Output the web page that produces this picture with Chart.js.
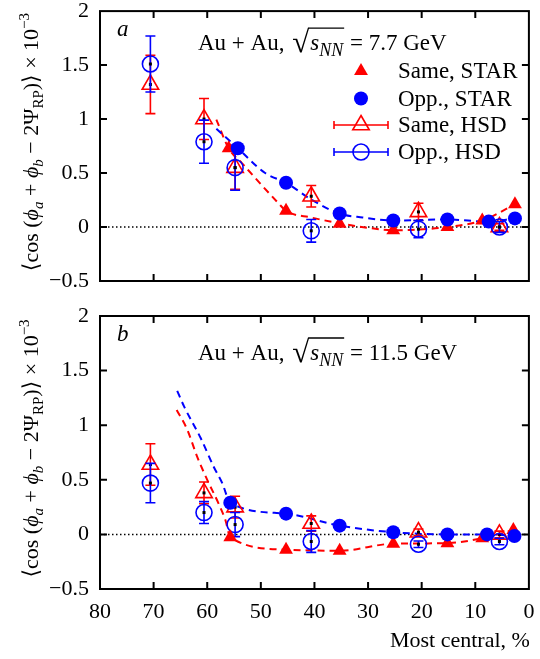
<!DOCTYPE html>
<html>
<head>
<meta charset="utf-8">
<script src="https://cdn.jsdelivr.net/npm/chart.js@4.4.1/dist/chart.umd.min.js"></script>
<style>
  html,body{margin:0;padding:0;background:#fff;}
  #wrap{position:relative;width:540px;height:659px;overflow:hidden;}
  canvas{position:absolute;left:0;}
  #cA{top:0;}
  #cB{top:300px;}
</style>
</head>
<body>
<div id="wrap">
  <canvas id="cA" width="540" height="300"></canvas>
  <canvas id="cB" width="540" height="359"></canvas>
</div>
<script>
/* two panels, Au+Au 7.7 and 11.5 GeV */

// axis ticks
const xTickVals = [0, 10, 20, 30, 40, 50, 60, 70, 80];
const yTickVals = [-0.5, 0, 0.5, 1, 1.5, 2];
const legendLabels = ['Same, STAR', 'Opp., STAR', 'Same, HSD', 'Opp., HSD'];
const xTitle = 'Most central, %';

// panel a — 7.7 GeV
const starSameXA  = [56, 45.3, 35.3, 25.3, 15.2, 8.7, 2.6];
const starSameA   = [0.73, 0.15, 0.03, -0.03, 0.0, 0.06, 0.21];
const starOppXA   = [54.3, 45.3, 35.3, 25.3, 15.2, 7.5, 2.6];
const starOppA    = [0.73, 0.41, 0.125, 0.06, 0.07, 0.05, 0.08];
const hsdX        = [70.6, 60.6, 54.8, 40.6, 20.6, 5.5];
const hsdSameA    = [1.32, 1.0, 0.55, 0.285, 0.14, 0.0];
const hsdSameErrA = [0.27, 0.19, 0.2, 0.1, 0.08, 0.03];
const hsdOppA     = [1.51, 0.79, 0.55, -0.035, -0.02, 0.0];
const hsdOppErrA  = [0.26, 0.2, 0.21, 0.105, 0.08, 0.05];
const fitSameXA   = [58.3, 56, 53.5, 46.8, 45.3, 40.6, 35.3, 29.6, 25.3, 21, 15.2, 8.7, 2.6];
const fitSameA    = [0.995, 0.73, 0.59, 0.225, 0.15, 0.088, 0.035, -0.01, -0.03, -0.025, 0.0, 0.06, 0.21];
const fitOppXA    = [58.3, 54.3, 49.2, 45.3, 40.6, 35.4, 31, 25.3, 15.2, 7.5, 2.6];
const fitOppA     = [0.91, 0.73, 0.5, 0.41, 0.255, 0.125, 0.088, 0.06, 0.07, 0.05, 0.08];

// panel b — 11.5 GeV
const starSameXB  = [55.7, 45.3, 35.3, 25.3, 15.2, 8.7, 2.9];
const starSameB   = [-0.025, -0.14, -0.15, -0.085, -0.08, -0.035, 0.04];
const starOppXB   = [55.7, 45.3, 35.3, 25.3, 15.2, 7.8, 2.7];
const starOppB    = [0.29, 0.19, 0.08, 0.02, 0.0, 0.0, -0.015];
const hsdSameB    = [0.64, 0.38, 0.25, 0.1, 0.02, 0.0];
const hsdSameErrB = [0.19, 0.1, 0.1, 0.07, 0.03, 0.03];
const hsdOppB     = [0.47, 0.2, 0.09, -0.065, -0.09, -0.065];
const hsdOppErrB  = [0.18, 0.1, 0.11, 0.1, 0.03, 0.03];
const fitSameXB   = [65.7, 63.7, 61.9, 60.0, 57.9, 56.6, 55.7, 45.3, 35.3, 25.3, 15.2, 8.7, 2.9];
const fitSameB    = [1.14, 0.957, 0.714, 0.5, 0.284, 0.13, -0.025, -0.14, -0.15, -0.085, -0.08, -0.035, 0.04];
const fitOppXB    = [65.6, 64.3, 61.2, 58.8, 57.2, 55.7, 45.3, 35.3, 25.3, 15.2, 7.8, 2.7];
const fitOppB     = [1.315, 1.17, 0.88, 0.62, 0.47, 0.29, 0.19, 0.08, 0.02, 0.0, 0.0, -0.015];

const RED = '#ff0000', BLUE = '#0000ff';
const SERIF = "'Liberation Serif','DejaVu Serif',serif";

function pts(xs, ys){ return xs.map((x,i)=>({x, y:ys[i]})); }

function fmtY(v){
  if(v < 0) return '\u2212' + Math.abs(v);
  return String(v);
}

// draws a run of text pieces, each with own font and vertical shift
function richText(ctx, parts, x, y, center){
  let w = 0;
  parts.forEach(p=>{ ctx.font = p.f; p.w = ctx.measureText(p.t).width; w += p.w + (p.dx||0); });
  let cx = center ? x - w/2 : x;
  parts.forEach(p=>{
    ctx.font = p.f;
    cx += (p.dx||0);
    ctx.fillText(p.t, cx, y + (p.dy||0));
    cx += p.w;
  });
  return cx;
}

function drawEnergy(ctx, x, base, energy){
  ctx.save();
  ctx.fillStyle = '#000';
  ctx.textAlign = 'left';
  ctx.textBaseline = 'alphabetic';
  ctx.font = `23px ${SERIF}`;
  const t1 = 'Au + Au, ';
  ctx.fillText(t1, x, base);
  x += ctx.measureText(t1).width + 2;
  // radical sign
  ctx.font = `31px ${SERIF}`;
  ctx.fillText('\u221A', x, base + 2);
  x += ctx.measureText('\u221A').width - 1;
  const x0 = x;
  x = richText(ctx, [
    {t:'s', f:`italic 23px ${SERIF}`, dx:2},
    {t:'NN', f:`italic 18px ${SERIF}`, dy:6}
  ], x, base);
  ctx.strokeStyle = '#000';
  ctx.lineWidth = 1.3;
  ctx.beginPath();
  ctx.moveTo(x0, base - 22);
  ctx.lineTo(x + 1, base - 22);
  ctx.stroke();
  ctx.font = `23px ${SERIF}`;
  ctx.fillText(' = ' + energy + ' GeV', x + 1, base);
  ctx.restore();
}

function drawYTitle(ctx, cx, cy){
  const f = `22px ${SERIF}`, fi = `italic 22px ${SERIF}`, fs = `15px ${SERIF}`, fsi = `italic 15px ${SERIF}`;
  ctx.save();
  ctx.fillStyle = '#000';
  ctx.textAlign = 'left';
  ctx.textBaseline = 'alphabetic';
  ctx.translate(cx, cy);
  ctx.rotate(-Math.PI/2);
  richText(ctx, [
    {t:'\u27E8cos (', f},
    {t:'\u03D5', f:fi},
    {t:'a', f:fsi, dy:5},
    {t:' + ', f},
    {t:'\u03D5', f:fi},
    {t:'b', f:fsi, dy:5},
    {t:' \u2212 2\u03A8', f},
    {t:'RP', f:fs, dy:5},
    {t:')\u27E9 \u00D7 10', f},
    {t:'\u22123', f:fs, dy:-9}
  ], 0, 0, true);
  ctx.restore();
}

function errorBars(chart, idx){
  const ds = chart.data.datasets[idx];
  const meta = chart.getDatasetMeta(idx);
  const ys = chart.scales.y;
  const ctx = chart.ctx;
  ctx.save();
  ctx.strokeStyle = ds.borderColor;
  ctx.lineWidth = 1.6;
  meta.data.forEach((pt,i)=>{
    const v = ds.data[i].y, e = ds.err[i];
    const y1 = ys.getPixelForValue(v + e), y2 = ys.getPixelForValue(v - e);
    ctx.beginPath();
    ctx.moveTo(pt.x, y1); ctx.lineTo(pt.x, y2);
    ctx.moveTo(pt.x - 5, y1); ctx.lineTo(pt.x + 5, y1);
    ctx.moveTo(pt.x - 5, y2); ctx.lineTo(pt.x + 5, y2);
    ctx.stroke();
  });
  ctx.restore();
}

function legendRow(ctx, x, y, style, radius, color, open, bar, label){
  ctx.save();
  ctx.strokeStyle = color;
  ctx.fillStyle = color;
  if(bar){
    ctx.lineWidth = 1.6;
    ctx.beginPath();
    ctx.moveTo(x - 27, y); ctx.lineTo(x + 27, y);
    ctx.moveTo(x - 27, y - 4); ctx.lineTo(x - 27, y + 4);
    ctx.moveTo(x + 27, y - 4); ctx.lineTo(x + 27, y + 4);
    ctx.stroke();
  }
  if(open) ctx.fillStyle = 'rgba(255,255,255,0)';
  Chart.helpers.drawPoint(ctx, {pointStyle:style, radius, rotation:0, borderWidth: open ? 1.6 : 0}, x, y);
  ctx.fillStyle = '#000';
  ctx.font = `23px ${SERIF}`;
  ctx.textAlign = 'left';
  ctx.textBaseline = 'alphabetic';
  ctx.fillText(label, 398, y + 7);
  ctx.restore();
}

const paperPlugin = {
  id: 'paper',
  beforeDatasetsDraw(chart){
    const {ctx, chartArea:a, scales:{y}} = chart;
    const y0 = y.getPixelForValue(0);
    ctx.save();
    ctx.strokeStyle = '#000';
    ctx.lineWidth = 1.5;
    ctx.setLineDash([1.5, 2.5]);
    ctx.beginPath();
    ctx.moveTo(a.left, y0);
    ctx.lineTo(a.right, y0);
    ctx.stroke();
    ctx.restore();
  },
  beforeDatasetDraw(chart, args){
    if(chart.data.datasets[args.index].err) errorBars(chart, args.index);
  },
  afterDatasetDraw(chart, args){
    const ds = chart.data.datasets[args.index];
    if(!ds.err) return;
    const ctx = chart.ctx;
    ctx.save();
    ctx.fillStyle = '#000';
    chart.getDatasetMeta(args.index).data.forEach(pt=>ctx.fillRect(pt.x - 1.5, pt.y - 1.5, 3, 3));
    ctx.restore();
  },
  afterDraw(chart, args, opts){
    const {ctx, chartArea:a, scales:{x, y}} = chart;
    ctx.save();
    // inner tick marks
    ctx.strokeStyle = '#000';
    ctx.lineWidth = 2;
    ctx.beginPath();
    xTickVals.forEach(v=>{
      if(v <= 0 || v >= 80) return;
      const px = x.getPixelForValue(v);
      ctx.moveTo(px, a.top); ctx.lineTo(px, a.top + 7);
      ctx.moveTo(px, a.bottom); ctx.lineTo(px, a.bottom - 7);
    });
    yTickVals.forEach(v=>{
      if(v <= -0.5 || v >= 2) return;
      const py = y.getPixelForValue(v);
      ctx.moveTo(a.left, py); ctx.lineTo(a.left + 7, py);
      ctx.moveTo(a.right, py); ctx.lineTo(a.right - 7, py);
    });
    ctx.stroke();
    // frame
    ctx.strokeRect(a.left, a.top, a.right - a.left, a.bottom - a.top);

    // panel letter
    ctx.fillStyle = '#000';
    ctx.font = `italic 23px ${SERIF}`;
    ctx.textAlign = 'left';
    ctx.textBaseline = 'alphabetic';
    ctx.fillText(opts.letter, 117, a.top + 25);

    // x-axis title (bottom panel only)
    if(opts.xTitle){
      ctx.font = `22px ${SERIF}`;
      ctx.textAlign = 'right';
      ctx.textBaseline = 'middle';
      ctx.fillText(opts.xTitle, a.right + 1, 341);
    }
    ctx.restore();

    drawEnergy(ctx, 198, a.top + opts.energyDy, opts.energy);

    if(opts.legend){
      const lx = 361;
      legendRow(ctx, lx, 71, 'triangle', 8, RED, false, false, legendLabels[0]);
      legendRow(ctx, lx, 98.5, 'circle', 7, BLUE, false, false, legendLabels[1]);
      legendRow(ctx, lx, 125, 'triangle', 9.5, RED, true, true, legendLabels[2]);
      legendRow(ctx, lx, 152, 'circle', 8, BLUE, true, true, legendLabels[3]);
    }

    drawYTitle(ctx, 38, (a.top + a.bottom)/2 - 4);
  }
};

function makeDatasets(p){
  return [
    {label:'Opp., STAR', data:pts(p.starOppX, p.starOpp), order:1,
     pointStyle:'circle', pointRadius:7, backgroundColor:BLUE, borderColor:BLUE, pointBorderWidth:0, showLine:false},
    {label:'Same, STAR', data:pts(p.starSameX, p.starSame), order:2,
     pointStyle:'triangle', pointRadius:8, backgroundColor:RED, borderColor:RED, pointBorderWidth:0, showLine:false},
    {label:'Opp., HSD', data:pts(hsdX, p.hsdOpp), err:p.hsdOppErr, order:3,
     pointStyle:'circle', pointRadius:8, backgroundColor:'rgba(0,0,0,0)', borderColor:BLUE, pointBorderWidth:1.6, showLine:false},
    {label:'Same, HSD', data:pts(hsdX, p.hsdSame), err:p.hsdSameErr, order:4,
     pointStyle:'triangle', pointRadius:9.5, backgroundColor:'rgba(0,0,0,0)', borderColor:RED, pointBorderWidth:1.6, showLine:false},
    {label:'fit opp', data:pts(p.fitOppX, p.fitOpp), order:5, showLine:true, pointRadius:0,
     borderColor:BLUE, borderWidth:2, borderDash:[7,5], cubicInterpolationMode:'monotone'},
    {label:'fit same', data:pts(p.fitSameX, p.fitSame), order:6, showLine:true, pointRadius:0,
     borderColor:RED, borderWidth:2, borderDash:[7,5], cubicInterpolationMode:'monotone'}
  ];
}

function makeChart(canvas, p, opts){
  const bottomPanel = opts.bottom;
  return new Chart(canvas, {
    type:'scatter',
    data:{ datasets: makeDatasets(p) },
    plugins:[paperPlugin],
    options:{
      responsive:false,
      animation:false,
      events:[],
      layout:{padding:{top:opts.padTop, right:6, left:0, bottom: bottomPanel ? 0 : 19}},
      plugins:{
        legend:{display:false},
        tooltip:{enabled:false},
        paper:{letter:opts.letter, energy:opts.energy, legend:opts.legend, energyDy:opts.energyDy,
               xTitle: bottomPanel ? xTitle : null}
      },
      scales:{
        x:{
          type:'linear', min:0, max:80, reverse:true,
          display: bottomPanel,
          afterBuildTicks(s){ s.ticks = xTickVals.map(v=>({value:v})); },
          afterFit(s){ s.height = bottomPanel ? 70 : 0; s.paddingLeft = 0; s.paddingRight = 0; },
          grid:{display:false, drawTicks:false},
          border:{display:false},
          ticks:{color:'#000', padding:10, font:{family:SERIF, size:22}, maxRotation:0, autoSkip:false},
          title:{display:false}
        },
        y:{
          type:'linear', min:-0.5, max:2,
          afterBuildTicks(s){ s.ticks = yTickVals.map(v=>({value:v})); },
          afterFit(s){ s.width = 100; s.paddingTop = 0; s.paddingBottom = 0; },
          grid:{display:false, drawTicks:false},
          border:{display:false},
          ticks:{color:'#000', padding:11, font:{family:SERIF, size:22}, callback:fmtY}
        }
      }
    }
  });
}

makeChart(document.getElementById('cA'), {
  starSameX:starSameXA, starSame:starSameA, starOppX:starOppXA, starOpp:starOppA,
  hsdSame:hsdSameA, hsdSameErr:hsdSameErrA, hsdOpp:hsdOppA, hsdOppErr:hsdOppErrA,
  fitSameX:fitSameXA, fitSame:fitSameA, fitOppX:fitOppXA, fitOpp:fitOppA
}, {letter:'a', energy:'7.7', legend:true, bottom:false, padTop:8, energyDy:39});

makeChart(document.getElementById('cB'), {
  starSameX:starSameXB, starSame:starSameB, starOppX:starOppXB, starOpp:starOppB,
  hsdSame:hsdSameB, hsdSameErr:hsdSameErrB, hsdOpp:hsdOppB, hsdOppErr:hsdOppErrB,
  fitSameX:fitSameXB, fitSame:fitSameB, fitOppX:fitOppXB, fitOpp:fitOppB
}, {letter:'b', energy:'11.5', legend:false, bottom:true, padTop:16, energyDy:44});
</script>
</body>
</html>
